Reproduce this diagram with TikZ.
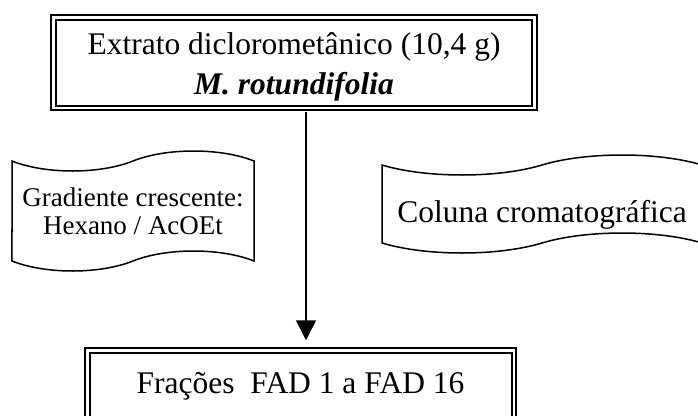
\documentclass[tikz,border=0pt]{standalone}
\usepackage{fontspec}
\setmainfont{Liberation Serif}
\usetikzlibrary{shapes.symbols,arrows.meta}

\tikzset{
	frame/.style={draw, double, line width=2pt, double distance=2.5pt, inner sep=0pt, align=center, font=\fontsize{31.5}{40}\selectfont},
	wave/.style={draw, tape, line width=1.5pt, tape bend height=20pt, inner sep=0pt, align=center},
}

\begin{document}
\begin{tikzpicture}[x=1pt,y=-1pt]
	\useasboundingbox (0,0) rectangle (698,415);
	\node[frame, minimum width=481pt, minimum height=90.5pt] (extrato) at (294,62.5) {\rule{0pt}{31pt}Extrato diclorometânico (10,4 g)\\ \textbf{\textit{M. rotundifolia}}};
	\node[wave, minimum width=242pt, minimum height=120pt, font=\fontsize{27}{28}\selectfont] (gradiente) at (133,211) {Gradiente crescente:\\ Hexano / AcOEt};
	\node[wave, minimum width=320pt, minimum height=98pt, text height=36pt, text depth=0pt, font=\fontsize{31.5}{40}\selectfont] (coluna) at (542,204) {Coluna cromatográfica};
	\node[frame, minimum width=426.5pt, minimum height=69.5pt, text height=23pt, text depth=7pt] (fracoes) at (300.5,385) {Frações~~FAD 1 a FAD 16};
	\draw[line width=1.5pt, shorten <=3.25pt, shorten >=9pt, -{Triangle[length=20pt,width=20pt]}] ([xshift=12pt]extrato.south) -- ([xshift=12pt]extrato.south |- fracoes.north);
\end{tikzpicture}
\end{document}
